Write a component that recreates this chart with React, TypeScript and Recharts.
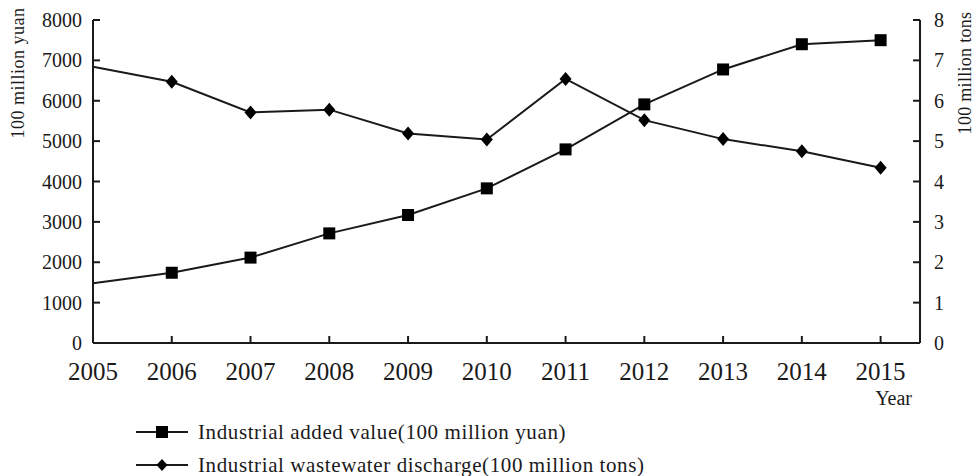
import React from "react";
import { LineChart, Line, XAxis, YAxis } from "recharts";

const years = [2005, 2006, 2007, 2008, 2009, 2010, 2011, 2012, 2013, 2014, 2015];
const addedValue = [1480, 1740, 2115, 2715, 3170, 3830, 4795, 5910, 6775, 7400, 7500];
const wastewater = [6.84, 6.47, 5.71, 5.78, 5.19, 5.04, 6.54, 5.52, 5.05, 4.75, 4.34];

const leftTicks = [0, 1000, 2000, 3000, 4000, 5000, 6000, 7000, 8000];
const rightTicks = [0, 1, 2, 3, 4, 5, 6, 7, 8];

const data = years.map((year, i) => ({
  year,
  added: addedValue[i],
  water: wastewater[i],
}));

const FONT = "'Liberation Serif', 'Times New Roman', serif";
const INK = "#1a1a1a";

function LeftTick({ x, y, payload }: any) {
  return (
    <g>
      <line x1={x} x2={x + 7} y1={y} y2={y} stroke={INK} strokeWidth={2} />
      <text x={x - 11} y={y} dy="0.35em" textAnchor="end" fontSize={20} fontFamily={FONT} fill={INK}>
        {payload.value}
      </text>
    </g>
  );
}

function RightTick({ x, y, payload }: any) {
  return (
    <g>
      <line x1={x - 7} x2={x} y1={y} y2={y} stroke={INK} strokeWidth={2} />
      <text x={x + 14} y={y} dy="0.35em" textAnchor="start" fontSize={20} fontFamily={FONT} fill={INK}>
        {payload.value}
      </text>
    </g>
  );
}

function BottomTick({ x, y, payload }: any) {
  return (
    <g>
      <line x1={x} x2={x} y1={y} y2={y - 7} stroke={INK} strokeWidth={2} />
      <text x={x} y={y + 37} textAnchor="middle" fontSize={25} fontFamily={FONT} fill={INK}>
        {payload.value}
      </text>
    </g>
  );
}

function SquareDot({ cx, cy, index }: any) {
  if (index === 0) return <g key={`s${index}`} />;
  return <rect key={`s${index}`} x={cx - 6} y={cy - 6} width={12} height={12} fill="#000" />;
}

function DiamondDot({ cx, cy, index }: any) {
  if (index === 0) return <g key={`d${index}`} />;
  return (
    <path
      key={`d${index}`}
      d={`M${cx},${cy - 7} L${cx + 6},${cy} L${cx},${cy + 7} L${cx - 6},${cy} Z`}
      fill="#000"
    />
  );
}

function LegendRow({ top, kind, label }: { top: number; kind: "square" | "diamond"; label: string }) {
  return (
    <div style={{ position: "absolute", left: 135, top: top - 14, height: 28, display: "flex", alignItems: "center" }}>
      <svg width={54} height={28}>
        <line x1={1} x2={53} y1={14} y2={14} stroke={INK} strokeWidth={2} />
        {kind === "square" ? (
          <rect x={21} y={8} width={12} height={12} fill="#000" />
        ) : (
          <path d="M27,8 L32.5,14 L27,20 L21.5,14 Z" fill="#000" />
        )}
      </svg>
      <span style={{ marginLeft: 9, fontFamily: FONT, fontSize: 21, color: INK, whiteSpace: "nowrap", letterSpacing: 0.6 }}>
        {label}
      </span>
    </div>
  );
}

export default function App() {
  return (
    <div style={{ position: "absolute", left: 0, top: 0, width: 974, height: 476, background: "#fff", fontFamily: FONT, overflow: "hidden" }}>
      <LineChart width={974} height={476} data={data} margin={{ top: 20, right: 0, bottom: 0, left: 0 }}>
        <XAxis
          dataKey="year"
          type="number"
          domain={[2005, 2015.5]}
          ticks={years}
          height={133}
          tickSize={0}
          tickMargin={0}
          tickLine={false}
          axisLine={{ stroke: INK, strokeWidth: 2 }}
          tick={<BottomTick />}
          interval={0}
          label={(props: any) => {
            const vb = props.viewBox || {};
            return (
              <text x={912} y={(vb.y ?? 343) + 62} textAnchor="end" fontSize={20} fontFamily={FONT} fill={INK}>
                Year
              </text>
            );
          }}
        />
        <YAxis
          yAxisId="left"
          domain={[0, 8000]}
          ticks={leftTicks}
          width={93}
          tickSize={0}
          tickMargin={0}
          tickLine={false}
          axisLine={{ stroke: INK, strokeWidth: 2 }}
          tick={<LeftTick />}
          interval={0}
          label={() => (
            <text
              x={0}
              y={0}
              transform="translate(24,73) rotate(-90)"
              textAnchor="middle"
              fontSize={18}
              letterSpacing={0.5}
              fontFamily={FONT}
              fill={INK}
            >
              100 million yuan
            </text>
          )}
        />
        <YAxis
          yAxisId="right"
          orientation="right"
          domain={[0, 8]}
          ticks={rightTicks}
          width={54}
          tickSize={0}
          tickMargin={0}
          tickLine={false}
          axisLine={{ stroke: INK, strokeWidth: 2 }}
          tick={<RightTick />}
          interval={0}
          label={() => (
            <text
              x={0}
              y={0}
              transform="translate(971,73) rotate(-90)"
              textAnchor="middle"
              fontSize={18}
              letterSpacing={0.3}
              fontFamily={FONT}
              fill={INK}
            >
              100 million tons
            </text>
          )}
        />
        <Line
          yAxisId="left"
          type="linear"
          dataKey="added"
          stroke={INK}
          strokeWidth={2}
          dot={(p: any) => <SquareDot {...p} />}
          isAnimationActive={false}
        />
        <Line
          yAxisId="right"
          type="linear"
          dataKey="water"
          stroke={INK}
          strokeWidth={2}
          dot={(p: any) => <DiamondDot {...p} />}
          isAnimationActive={false}
        />
      </LineChart>
      <LegendRow top={432} kind="square" label="Industrial added value(100 million yuan)" />
      <LegendRow top={465} kind="diamond" label="Industrial wastewater discharge(100 million tons)" />
    </div>
  );
}
